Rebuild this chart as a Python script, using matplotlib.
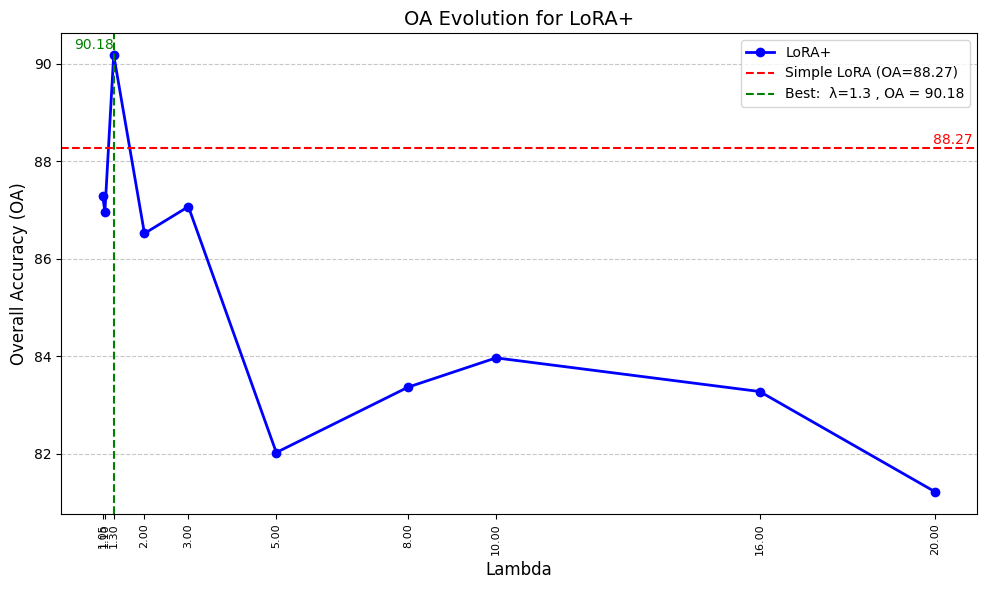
import matplotlib
matplotlib.use("Agg")
import matplotlib.pyplot as plt

# Lambda values and OA results
lambdas = [1.05, 1.10, 1.30, 2.00, 3.00, 5.00, 8.00, 10.00, 16.00, 20.00]
oa_values = [87.28, 86.97, 90.18, 86.52, 87.07, 82.03, 83.37, 83.97, 83.28, 81.22]
simple_lora_oa = 88.27
best_lambda = 1.3
best_oa = 90.18

fig, ax = plt.subplots(figsize=(9.85, 5.9), dpi=100)

ax.plot(lambdas, oa_values, marker='o', color='blue', linewidth=2, label='LoRA+')
ax.axhline(simple_lora_oa, color='red', linestyle='--', label=f'Simple LoRA (OA={simple_lora_oa})')
ax.axvline(best_lambda, color='green', linestyle='--',
           label=f'Best:  λ={best_lambda} , OA = {best_oa}')

# value labels
ax.text(best_lambda, best_oa + 0.05, f'{best_oa}', color='green', ha='right', va='bottom', fontsize=10)
ax.text(lambdas[-1] + 0.85, simple_lora_oa + 0.03, f'{simple_lora_oa}', color='red',
        ha='right', va='bottom', fontsize=10)

ax.set_xticks(lambdas)
ax.set_xticklabels([f'{l:.2f}' for l in lambdas], rotation=90, fontsize=8)
ax.set_xlabel('Lambda', fontsize=12)
ax.set_ylabel('Overall Accuracy (OA)', fontsize=12)
ax.set_title('OA Evolution for LoRA+', fontsize=14)
ax.grid(axis='y', linestyle='--', alpha=0.7)
ax.legend(loc='upper right')

fig.subplots_adjust(left=0.062, right=0.992, top=0.944, bottom=0.129)
plt.savefig('out.png')
